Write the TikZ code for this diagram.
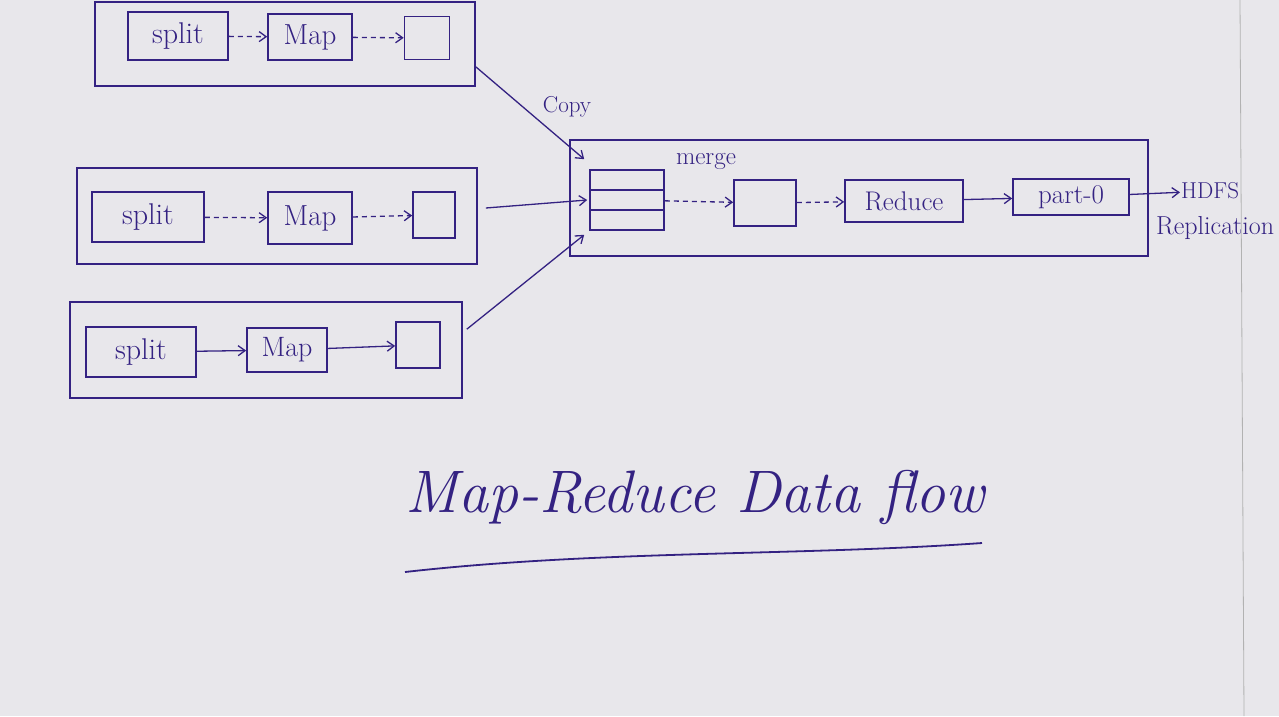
\documentclass[tikz,border=0pt]{standalone}
\usetikzlibrary{arrows.meta,calc}
\definecolor{ink}{RGB}{52,34,130}
\definecolor{paper}{RGB}{232,231,235}
\tikzset{
  box/.style={draw=ink, line width=1.6pt, inner sep=0pt, rectangle},
  lbl/.style={text=ink, inner sep=1pt},
  flow/.style={draw=ink, line width=1.3pt, -{Straight Barb[length=7pt,width=10pt]}},
  dflow/.style={flow, dash pattern=on 5pt off 4pt},
}
\newcommand{\fs}[1]{\fontsize{#1}{#1}\selectfont}
\begin{document}
\begin{tikzpicture}[x=1pt,y=-1pt]
\fill[paper] (0,0) rectangle (1279,716);
\useasboundingbox (0,0) rectangle (1279,716);
\draw[gray!60, line width=0.8pt] (1240,0) -- (1244,716);

% row 1
\node[box, minimum width=380pt, minimum height=84pt] (o1) at (285,44) {};
\node[box, lbl, minimum width=100pt, minimum height=48pt, font=\fs{30}] (s1) at (178,36) {split};
\node[box, lbl, minimum width=84pt, minimum height=46pt, font=\fs{29}] (m1) at (310,37) {Map};
\node[box, minimum width=45pt, minimum height=43pt] (b1) at (427,38) {};
\draw[dflow] (s1) -- (m1);
\draw[dflow] (m1) -- (b1);

% row 2
\node[box, minimum width=400pt, minimum height=96pt] (o2) at (277,216) {};
\node[box, lbl, minimum width=112pt, minimum height=50pt, font=\fs{30}] (s2) at (148,217) {split};
\node[box, lbl, minimum width=84pt, minimum height=52pt, font=\fs{29}] (m2) at (310,218) {Map};
\node[box, minimum width=42pt, minimum height=46pt] (b2) at (434,215) {};
\draw[dflow] (s2) -- (m2);
\draw[dflow] (m2) -- (b2);

% row 3
\node[box, minimum width=392pt, minimum height=96pt] (o3) at (266,350) {};
\node[box, lbl, minimum width=110pt, minimum height=50pt, font=\fs{30}] (s3) at (141,352) {split};
\node[box, lbl, minimum width=80pt, minimum height=44pt, font=\fs{28}] (m3) at (287,350) {Map};
\node[box, minimum width=44pt, minimum height=46pt] (b3) at (418,345) {};
\draw[flow] (s3) -- (m3);
\draw[flow] (m3) -- (b3);

% reduce side
\node[box, minimum width=578pt, minimum height=116pt] (R) at (859,198) {};
\node[box, minimum width=74pt, minimum height=60pt] (st) at (627,200) {};
\draw[ink, line width=1.6pt] ($(st.north west)!1/3!(st.south west)$) -- ($(st.north east)!1/3!(st.south east)$);
\draw[ink, line width=1.6pt] ($(st.north west)!2/3!(st.south west)$) -- ($(st.north east)!2/3!(st.south east)$);
\node[box, minimum width=62pt, minimum height=46pt] (mb) at (765,203) {};
\node[box, lbl, minimum width=118pt, minimum height=42pt, font=\fs{27}] (red) at (904,201) {Reduce};
\node[box, lbl, minimum width=116pt, minimum height=36pt, font=\fs{27}] (part) at (1071,197) {part-0};
\node[lbl, anchor=west, font=\fs{23}] (hdfs) at (1180,191) {HDFS};
\node[lbl, anchor=west, font=\fs{26}] (repl) at (1155,228) {Replication};
\node[lbl, font=\fs{23}] (copy) at (567,107) {Copy};
\node[lbl, font=\fs{25}] (merge) at (706,161) {merge};

\draw[dflow] (st) -- (mb);
\draw[dflow] (mb) -- (red);
\draw[flow] (red) -- (part);
\draw[flow] (part) -- (hdfs);

% copy connectors
\coordinate (in1) at ($(R.north west)+(15,20)$);
\coordinate (in2) at ($(R.west)+(18,2)$);
\coordinate (in3) at ($(R.south west)+(15,-22)$);
\draw[flow] ($(o1.south east)+(0,-20)$) -- (in1);
\draw[flow] ($(o2.east)+(8,-8)$) -- (in2);
\draw[flow] ($(o3.north east)+(4,28)$) -- (in3);

% title
\node[lbl, font=\fs{60}\itshape] (title) at (695,497) {Map-Reduce Data flow};
\draw[ink, line width=1.8pt] (405,572) .. controls (600,550) and (800,556) .. (982,543);
\end{tikzpicture}
\end{document}
